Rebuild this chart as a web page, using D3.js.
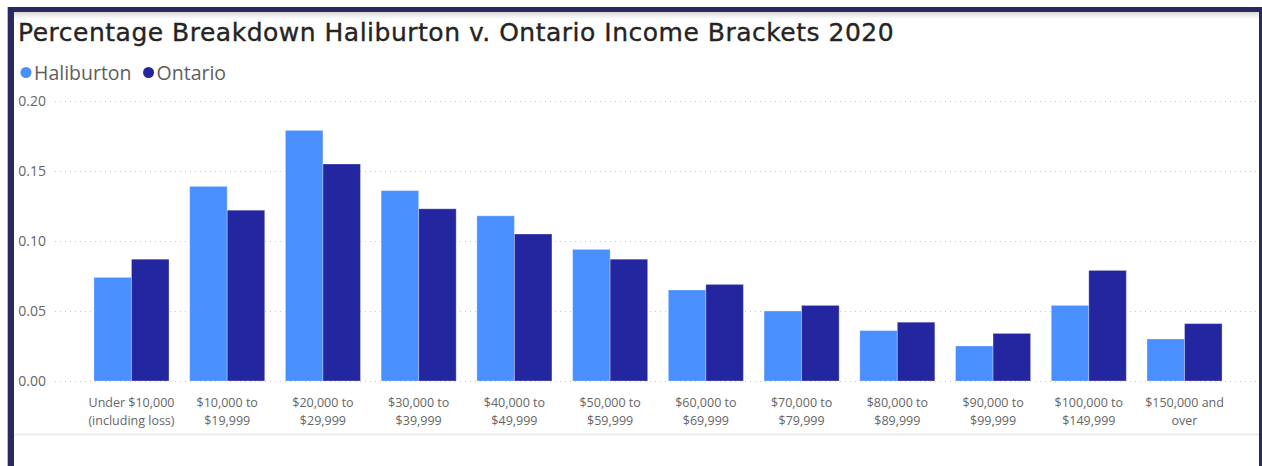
<!DOCTYPE html>
<html>
<head>
<meta charset="utf-8">
<script src="https://cdn.jsdelivr.net/npm/d3@7"></script>
<style>
  html, body { margin: 0; padding: 0; background: #fff; }
  svg { display: block; }
</style>
</head>
<body>
<svg id="chart" width="1262" height="466"></svg>
<script>
// Income brackets and the share of households in each one
const categories = [
  ["Under $10,000", "(including loss)"],
  ["$10,000 to", "$19,999"],
  ["$20,000 to", "$29,999"],
  ["$30,000 to", "$39,999"],
  ["$40,000 to", "$49,999"],
  ["$50,000 to", "$59,999"],
  ["$60,000 to", "$69,999"],
  ["$70,000 to", "$79,999"],
  ["$80,000 to", "$89,999"],
  ["$90,000 to", "$99,999"],
  ["$100,000 to", "$149,999"],
  ["$150,000 and", "over"]
];
const seriesNames = ["Haliburton", "Ontario"];
const haliburton = [0.074, 0.139, 0.179, 0.136, 0.118, 0.094, 0.065, 0.050, 0.036, 0.025, 0.054, 0.030];
const ontario    = [0.087, 0.122, 0.155, 0.123, 0.105, 0.087, 0.069, 0.054, 0.042, 0.034, 0.079, 0.041];
const yTicks = [0, 0.05, 0.10, 0.15, 0.20];

const colors = { Haliburton: "#4a8ffe", Ontario: "#2426a0" };

const svg = d3.select("#chart");
const W = 1262, H = 466;

// Frame
svg.append("rect").attr("x", 0).attr("y", 0).attr("width", W).attr("height", H).attr("fill", "#fff");
const shade = svg.append("defs").append("linearGradient")
  .attr("id", "topShade").attr("x1", 0).attr("y1", 0).attr("x2", 0).attr("y2", 1);
shade.append("stop").attr("offset", 0).attr("stop-color", "#d8d8d8");
shade.append("stop").attr("offset", 1).attr("stop-color", "#ffffff");
svg.append("rect").attr("x", 14).attr("y", 12).attr("width", 1245).attr("height", 7).attr("fill", "url(#topShade)");
svg.append("rect").attr("x", 8).attr("y", 7).attr("width", 1254).attr("height", 5).attr("fill", "#29285f");
svg.append("rect").attr("x", 8).attr("y", 7).attr("width", 6).attr("height", H - 7).attr("fill", "#29285f");
svg.append("rect").attr("x", 1259).attr("y", 7).attr("width", 3).attr("height", H - 7).attr("fill", "#29285f");
svg.append("rect").attr("x", 7).attr("y", 7).attr("width", 1).attr("height", H - 7).attr("fill", "#b8b8c8");
svg.append("line").attr("x1", 14).attr("x2", 1259).attr("y1", 434.5).attr("y2", 434.5)
  .attr("stroke", "#ebebeb").attr("stroke-width", 2);

// Title
svg.append("text")
  .attr("x", 18).attr("y", 41)
  .attr("font-family", "'DejaVu Sans', sans-serif")
  .attr("font-size", 25)
  .attr("letter-spacing", 0.5)
  .attr("fill", "#252423")
  .attr("stroke", "#252423")
  .attr("stroke-width", 0.35)
  .text("Percentage Breakdown Haliburton v. Ontario Income Brackets 2020");

// Legend
const legend = svg.append("g").attr("font-family", "'Segoe UI', 'Open Sans', sans-serif").attr("font-size", 19.5);
let lx = 26;
seriesNames.forEach(name => {
  legend.append("circle").attr("cx", lx).attr("cy", 72.5).attr("r", 5.5).attr("fill", colors[name]);
  const t = legend.append("text").attr("x", lx + 8).attr("y", 79.5).attr("fill", "#605e5c").text(name);
  lx += t.node().getComputedTextLength() + 25;
});

// Scales
const x0 = d3.scaleBand()
  .domain(d3.range(categories.length))
  .range([83.6, 1232.4])
  .paddingInner(0.216)
  .paddingOuter(0.108);
const x1 = d3.scaleBand().domain(seriesNames).range([0, x0.bandwidth()]).padding(0);
const y = d3.scaleLinear().domain([0, 0.20]).range([381, 101]);

// Gridlines
svg.append("g").selectAll("line").data(yTicks).join("line")
  .attr("x1", 55).attr("x2", 1257)
  .attr("y1", d => Math.round(y(d)) + 0.5).attr("y2", d => Math.round(y(d)) + 0.5)
  .attr("stroke", "#c8c8c8").attr("stroke-width", 1).attr("stroke-dasharray", "1,4");

// Y axis labels
const yAxis = d3.axisLeft(y).tickValues(yTicks).tickFormat(d3.format(".2f")).tickSize(0).tickPadding(0);
const yg = svg.append("g").attr("transform", "translate(46,0)").call(yAxis);
yg.select(".domain").remove();
yg.selectAll("text")
  .attr("font-family", "'Segoe UI', 'Open Sans', sans-serif")
  .attr("font-size", 14).attr("fill", "#666");

// Bars
const groups = svg.append("g").selectAll("g").data(categories.map((c, i) => i)).join("g")
  .attr("transform", i => `translate(${x0(i)},0)`);
groups.selectAll("rect")
  .data(i => [{ s: "Haliburton", v: haliburton[i] }, { s: "Ontario", v: ontario[i] }])
  .join("rect")
  .attr("x", d => x1(d.s))
  .attr("y", d => y(d.v))
  .attr("width", x1.bandwidth())
  .attr("height", d => y(0) - y(d.v))
  .attr("fill", d => colors[d.s])
  .attr("stroke", "rgba(255,255,255,0.3)")
  .attr("stroke-width", 1);

// X axis labels
const xAxis = d3.axisBottom(x0).tickSize(0).tickFormat(() => "");
const xg = svg.append("g").attr("transform", "translate(0,381)").call(xAxis);
xg.select(".domain").remove();
xg.selectAll(".tick").each(function(i) {
  const t = d3.select(this).append("text")
    .attr("text-anchor", "middle")
    .attr("font-family", "'Segoe UI', 'Open Sans', sans-serif")
    .attr("font-size", 12.5)
    .attr("fill", "#666");
  categories[i].forEach((line, k) => {
    t.append("tspan").attr("x", 0).attr("y", 25.5 + k * 18).text(line);
  });
});
</script>
</body>
</html>
